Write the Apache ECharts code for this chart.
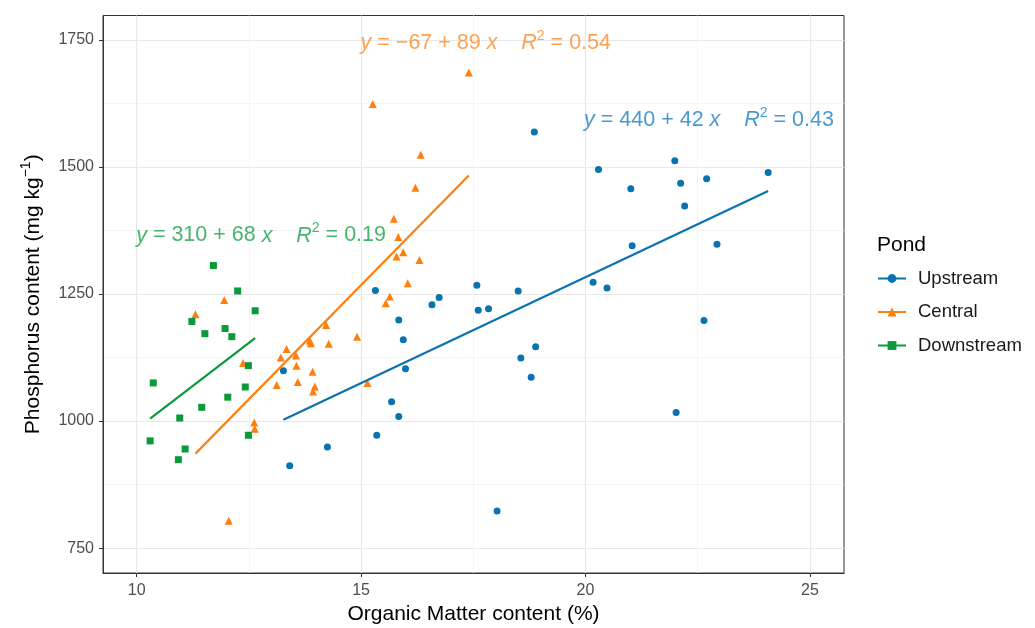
<!DOCTYPE html>
<html><head><meta charset="utf-8">
<script src="https://cdn.jsdelivr.net/npm/echarts@6/dist/echarts.min.js"></script>
<style>html,body{margin:0;padding:0;background:#fff}#c{width:1035px;height:628px}</style>
</head><body><div id="c"></div>
<script>
// ---- data ----
const seriesNames = ['Upstream', 'Central', 'Downstream'];
const upX = [13.27,13.41,14.25,15.35,15.68,15.84,15.99,15.94,15.84,16.58,16.74,15.32,17.58,17.61,17.84,18.50,18.56,18.79,18.89,18.03,18.86,20.29,21.01,21.04,20.17,20.48,21.99,22.12,22.21,22.70,22.64,22.93,22.02,24.07];
const upY = [1099,912,949,972,1038,1009,1103,1160,1199,1229,1243,1257,1267,1218,1221,1256,1124,1086,1146,823,1569,1495,1457,1345,1273,1262,1512,1468,1423,1477,1198,1348,1017,1489];
const ceX = [17.40,15.26,16.33,16.21,15.73,15.83,15.94,15.79,16.30,16.04,15.64,15.55,14.22,13.86,13.88,14.28,14.91,13.34,13.21,13.55,13.56,13.92,13.12,13.59,13.97,13.93,15.14,12.62,12.63,11.95,11.31,12.37,12.05];
const ceY = [1686,1624,1524,1459,1398,1362,1332,1324,1317,1271,1245,1232,1189,1158,1153,1152,1166,1142,1125,1129,1109,1097,1071,1077,1068,1058,1075,997,985,1238,1210,1114,804];
const dnX = [11.71,12.25,12.64,11.23,11.52,11.97,12.12,12.49,10.37,12.42,12.03,11.45,10.96,10.30,12.49,11.08,10.93];
const dnY = [1306,1256,1217,1196,1172,1182,1166,1109,1075,1067,1047,1027,1006,961,972,945,924];
const eqTexts = [
  '{i|y} = 440 + 42 {i|x}    {i|R}{s|2} = 0.43',
  '{i|y} = \u221267 + 89 {i|x}    {i|R}{s|2} = 0.54',
  '{i|y} = 310 + 68 {i|x}    {i|R}{s|2} = 0.19'
];
const xTicks = [10, 15, 20, 25];
const xMinor = [12.5, 17.5, 22.5];
const yTicks = [750, 1000, 1250, 1500, 1750];
const yMinor = [875, 1125, 1375, 1625];

// ---- styles / layout ----
const colors = ['#0a72b0', '#ff7f0e', '#0a9a3a'];
const textColors = ['#1a7fc0', '#ff8a24', '#16a346'];
const symbols = ['circle', 'triangle', 'rect'];
const symSizes = [7, 8, 7];
const eqPos = [[19.98, 1591], [15.0, 1742], [10.0, 1364]];
const FONT = '"Liberation Sans", Arial, sans-serif';

function fitLine(xs, ys) {
  const n = xs.length;
  let sx = 0, sy = 0;
  for (let i = 0; i < n; i++) { sx += xs[i]; sy += ys[i]; }
  const mx = sx / n, my = sy / n;
  let sxy = 0, sxx = 0;
  for (let i = 0; i < n; i++) { sxy += (xs[i]-mx)*(ys[i]-my); sxx += (xs[i]-mx)*(xs[i]-mx); }
  const b = sxy / sxx, a = my - b * mx;
  const x0 = Math.min.apply(null, xs), x1 = Math.max.apply(null, xs);
  return [[x0, a + b * x0], [x1, a + b * x1]];
}
const groups = [[upX, upY], [ceX, ceY], [dnX, dnY]];

const series = [];
groups.forEach((g, k) => {
  series.push({
    type: 'line', name: seriesNames[k], data: fitLine(g[0], g[1]),
    symbol: symbols[k], symbolSize: symSizes[k], showSymbol: false,
    lineStyle: { color: colors[k], width: 2.2 }, itemStyle: { color: colors[k] },
    z: 4, silent: true, animation: false
  });
});
groups.forEach((g, k) => {
  series.push({
    type: 'scatter', name: seriesNames[k],
    data: g[0].map((x, i) => [x, g[1][i]]),
    symbol: symbols[k], symbolSize: symSizes[k],
    itemStyle: { color: colors[k], opacity: 1 }, z: 3, animation: false
  });
});
groups.forEach((g, k) => {
  const c = textColors[k];
  series.push({
    type: 'scatter', name: 'eq' + k, data: [eqPos[k]], symbolSize: 1,
    itemStyle: { color: 'rgba(0,0,0,0)' }, silent: true, z: 5, animation: false,
    label: {
      show: true, position: [0, 0], align: 'left', verticalAlign: 'middle',
      formatter: eqTexts[k], color: c, fontSize: 21.5, fontFamily: FONT, lineHeight: 28,
      rich: {
        i: { fontStyle: 'italic', fontSize: 21.5, color: c, fontFamily: FONT, lineHeight: 28 },
        s: { fontSize: 14, color: c, fontFamily: FONT, verticalAlign: 'top', lineHeight: 14 }
      }
    }
  });
});

const majorLine = { show: true, lineStyle: { color: '#e8e8e8', width: 1.2 } };
const minorLine = { show: true, lineStyle: { color: '#f1f1f1', width: 0.8 } };

const option = {
  animation: false,
  backgroundColor: '#fff',
  title: { text: 'Pond', left: 872, top: 230, textStyle: { fontSize: 21, fontWeight: 'normal', color: '#000', fontFamily: FONT } },
  legend: {
    data: seriesNames, orient: 'vertical', left: 872, top: 264,
    itemWidth: 28, itemHeight: 11, itemGap: 14.5,
    textStyle: { fontSize: 18.5, color: '#1a1a1a', fontFamily: FONT, padding: [0, 0, 0, 7] }
  },
  grid: { left: 103, right: 191, top: 15.5, bottom: 55, show: true, borderColor: '#333', borderWidth: 1, backgroundColor: '#fff', outerBoundsMode: 'none', containLabel: false },
  xAxis: [{
    type: 'value', min: 9.25, max: 25.76,
    name: 'Organic Matter content (%)', nameLocation: 'middle', nameGap: 31,
    nameTextStyle: { fontSize: 21, color: '#000', fontFamily: FONT },
    axisLine: { show: true, lineStyle: { color: '#333' } },
    axisTick: { show: true, length: 4, customValues: xTicks, lineStyle: { color: '#333' } },
    axisLabel: { customValues: xTicks, fontSize: 16, color: '#4d4d4d', margin: 10, fontFamily: FONT, formatter: v => String(v) },
    splitLine: majorLine
  }, {
    type: 'value', min: 9.25, max: 25.76, position: 'bottom',
    axisLine: { show: false }, axisTick: { show: false, customValues: xMinor },
    axisLabel: { show: false, customValues: xMinor }, splitLine: minorLine
  }],
  yAxis: [{
    type: 'value', min: 701, max: 1798,
    name: 'Phosphorus content (mg kg{s|\u22121})', nameLocation: 'middle', nameGap: 56,
    nameTextStyle: { fontSize: 21, color: '#000', fontFamily: FONT, lineHeight: 28,
      rich: { s: { fontSize: 14, fontFamily: FONT, color: '#000', verticalAlign: 'top', lineHeight: 14 } } },
    axisLine: { show: true, lineStyle: { color: '#333' } },
    axisTick: { show: true, length: 4, customValues: yTicks, lineStyle: { color: '#333' } },
    axisLabel: { customValues: yTicks, fontSize: 16, color: '#4d4d4d', margin: 9, fontFamily: FONT, formatter: v => String(v) },
    splitLine: majorLine
  }, {
    type: 'value', min: 701, max: 1798, position: 'left',
    axisLine: { show: false }, axisTick: { show: false, customValues: yMinor },
    axisLabel: { show: false, customValues: yMinor }, splitLine: minorLine
  }],
  series: series
};
const chart = echarts.init(document.getElementById('c'));
chart.setOption(option);
</script></body></html>
